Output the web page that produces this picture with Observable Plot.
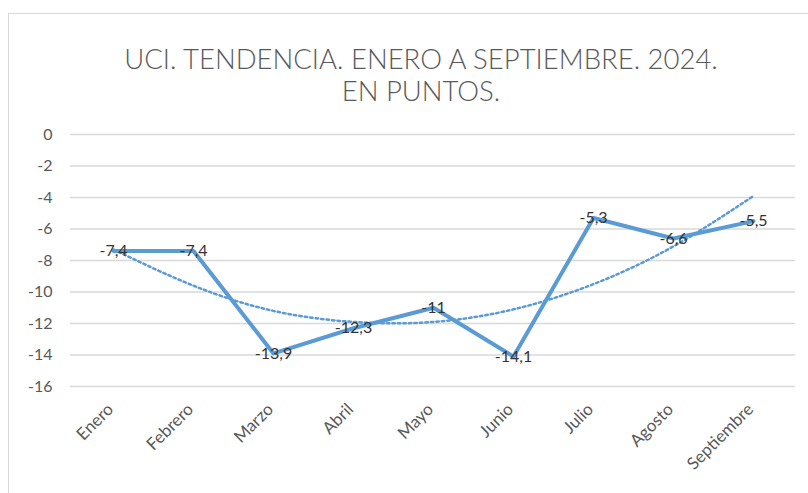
<!DOCTYPE html>
<html><head><meta charset="utf-8">
<script src="https://cdn.jsdelivr.net/npm/d3@7"></script>
<script src="https://cdn.jsdelivr.net/npm/@observablehq/plot@0.6"></script>
<style>
body{margin:0;background:#fff;}
#wrap{position:relative;width:808px;height:493px;overflow:hidden;font-family:Lato,sans-serif;}
#frame{position:absolute;left:8px;top:13px;width:830px;height:520px;border:1.5px solid #d9d9d9;}
#title{position:absolute;left:0;width:842px;top:43px;text-align:center;color:#595959;font-size:27.5px;font-weight:300;line-height:32px;}
#chart{position:absolute;left:0;top:0;}
</style></head><body>
<div id="wrap"><div id="frame"></div><div id="chart"></div><div id="title">UCI. TENDENCIA. ENERO A SEPTIEMBRE. 2024.<br>EN PUNTOS.</div></div>
<script>
const months = ["Enero","Febrero","Marzo","Abril","Mayo","Junio","Julio","Agosto","Septiembre"];
const values = [-7.4,-7.4,-13.9,-12.3,-11,-14.1,-5.3,-6.6,-5.5];
const trend = [-7.3,-9.6,-11.2,-11.9,-11.9,-11.1,-9.5,-7.1,-3.9];
const yTicks = [0,-2,-4,-6,-8,-10,-12,-14,-16];

const rows = months.map((m,i)=>({month:m, value:values[i], trend:trend[i], label:String(values[i]).replace(".", ",")}));
const blue = "#5b9bd5";

const chart = Plot.plot({
  width: 808,
  height: 493,
  marginLeft: 70,
  marginRight: 13,
  marginTop: 134,
  marginBottom: 107,
  style: {fontFamily: "Lato, sans-serif", background: "transparent"},
  x: {type: "point", domain: months, padding: 0.5, label: null},
  y: {domain: [-16, 0], label: null},
  marks: [
    Plot.ruleY(yTicks, {stroke: "#d9d9d9", strokeWidth: 1.5}),
    Plot.axisY({ticks: yTicks, tickSize: 0, tickPadding: 18, fontSize: 16, fill: "#595959", tickFormat: d=>String(d)}),
    Plot.axisX({tickSize: 0, tickRotate: -45, tickPadding: 20, dx: -3, fontSize: 17, fill: "#595959"}),
    Plot.line(rows, {x: "month", y: "trend", curve: "natural", stroke: blue, strokeWidth: 2.5, strokeDasharray: "2.5,3"}),
    Plot.line(rows, {x: "month", y: "value", stroke: blue, strokeWidth: 4, strokeLinejoin: "round"}),
    Plot.text(rows, {x: "month", y: "value", text: "label", fontSize: 16, fill: "#333333"})
  ]
});
document.getElementById("chart").appendChild(chart);
</script>
</body></html>
